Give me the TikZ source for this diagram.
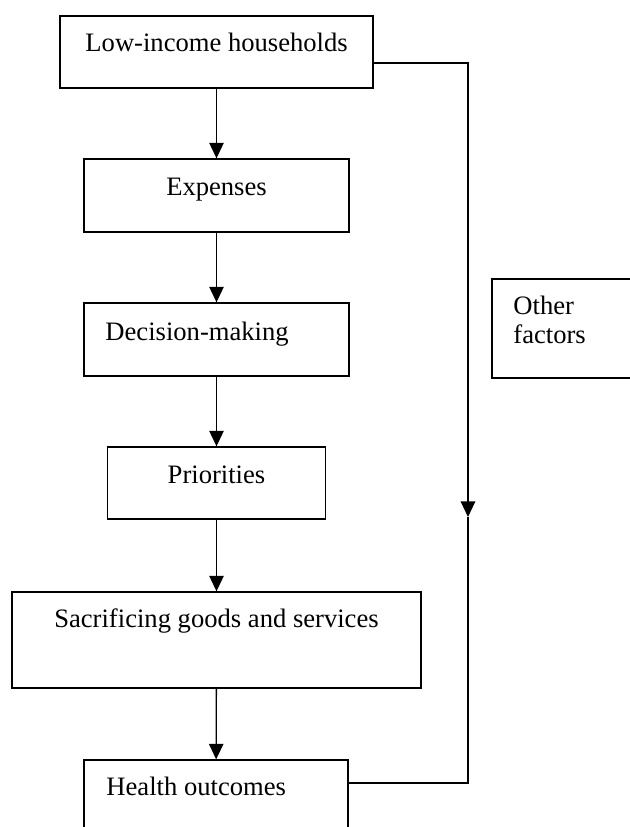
\documentclass[tikz,border=0pt]{standalone}
\usepackage{fontspec}
\setmainfont{Liberation Serif}
\usetikzlibrary{arrows.meta}

\tikzset{
  box/.style={draw, line width=0.6pt, inner sep=0pt},
  boxsize/.style 2 args={minimum width=#1*0.451pt, minimum height=#2*0.451pt},
  lbl/.style={inner sep=0pt, font=\fontsize{12}{13.1}\selectfont},
  arr/.style={-{Triangle[length=7pt,width=6.5pt]}, line width=0.6pt},
  conn/.style={line width=0.6pt}
}

\begin{document}
\begin{tikzpicture}[x=0.451pt, y=-0.451pt]
           \useasboundingbox (0,0) rectangle (630,827);
           \clip (0,0) rectangle (630,827);

           % Boksene
           \node[box, boxsize={313}{72}] (low) at (216.5,52) {};
           \node[box, boxsize={265}{73}] (exp) at (216.5,195.5) {};
           \node[box, boxsize={265}{73}] (dec) at (216.5,339.5) {};
           \node[box, boxsize={218}{72}] (pri) at (216.5,483) {};
           \node[box, boxsize={409}{96}] (sac) at (216.5,640) {};
           \node[box, boxsize={264}{100}] (hea) at (216,810) {};
           \node[box, boxsize={168}{99}] (oth) at (576,328.5) {};

           % Tekstene
           \node[lbl, anchor=base west] (lowtxt) at (85,51) {Low-income households};
           \node[lbl, anchor=base] (exptxt) at (216.5,195) {Expenses};
           \node[lbl, anchor=base west] (dectxt) at (105,340) {Decision-making};
           \node[lbl, anchor=base] (pritxt) at (216.5,483) {Priorities};
           \node[lbl, anchor=base] (sactxt) at (216.5,627) {Sacrificing goods and services};
           \node[lbl, anchor=base west] (heatxt) at (106,795) {Health outcomes};
           \node[lbl, anchor=north west, align=left] (othtxt) at (513,296) {Other\\factors};

           % Pilene
           \draw[arr] (low) -- (exp);
           \draw[arr] (exp) -- (dec);
           \draw[arr] (dec) -- (pri);
           \draw[arr] (pri) -- (sac);
           \draw[arr] (sac) -- (hea);

           % Linja til hoyre
           \coordinate (jt) at (468,63);
           \coordinate (jm) at (468,517);
           \coordinate (jb) at (468,783);
           \draw[arr] (low.east |- jt) -- (jt) -- (jm);
           \draw[conn] (jm) -- (jb) -- (hea.east |- jb);
         \end{tikzpicture}
\end{document}
